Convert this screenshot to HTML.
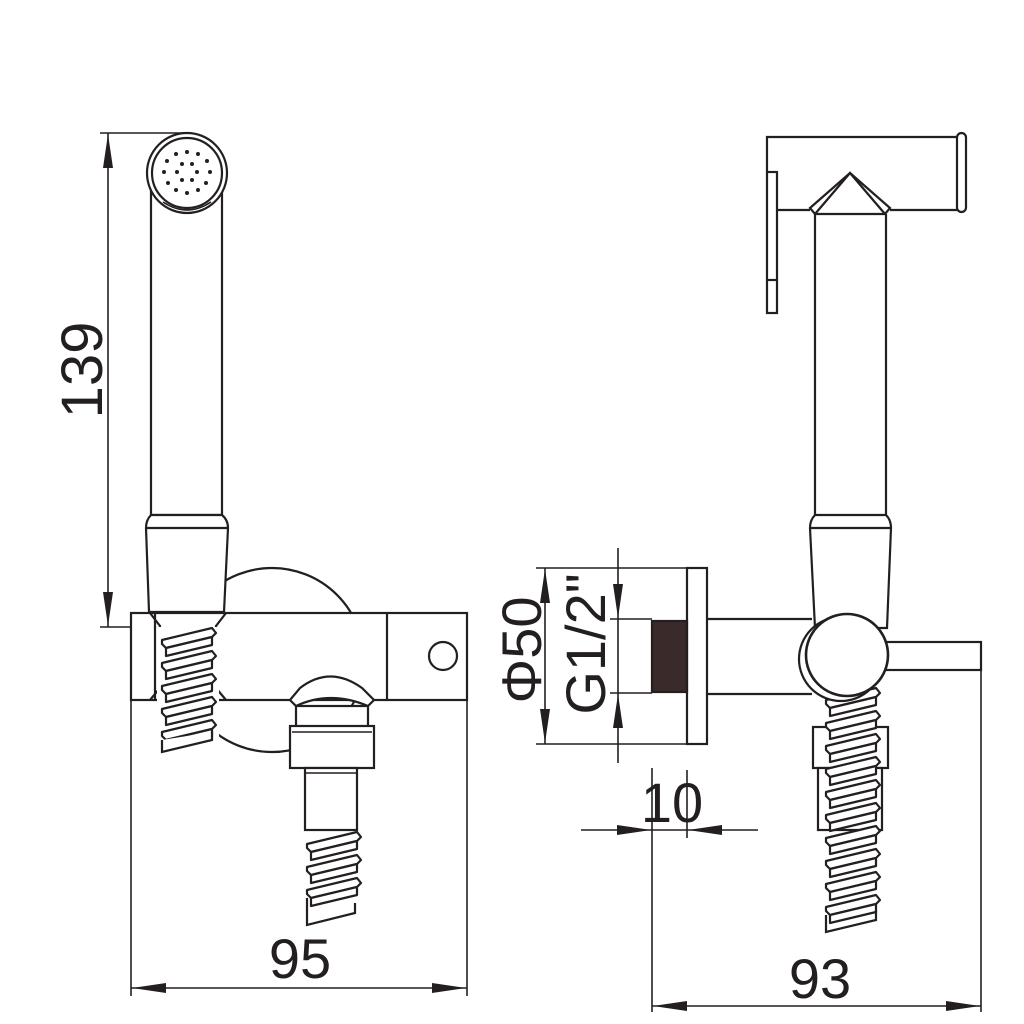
<!DOCTYPE html>
<html><head><meta charset="utf-8"><style>
html,body{margin:0;padding:0;background:#fff;}
svg{display:block;}
text{font-family:"Liberation Sans",sans-serif;fill:#231f20;}
</style></head><body>
<svg width="1024" height="1024" viewBox="0 0 1024 1024" xmlns="http://www.w3.org/2000/svg">
<defs>
<g id="coil" fill="#fff" stroke="#231f20" stroke-width="2.2" stroke-linejoin="round">
<path d="M0,12 L50,0 L54,5 L50,9 L4,20 L0,16 Z"/>
<path d="M4,20 L50,9 L50,17 L4,28 Z"/>
</g>
</defs>
<g fill="none" stroke="#231f20" stroke-width="2.2">

<!-- ===== LEFT VIEW ===== -->
<!-- 139 dimension -->
<line x1="108" y1="133" x2="108" y2="627" stroke-width="1.6"/>
<line x1="100" y1="133" x2="190" y2="133" stroke-width="1.6"/>
<line x1="100" y1="627" x2="162" y2="627" stroke-width="1.6"/>
<polygon points="108,134 103,168 113,168" fill="#231f20" stroke="none"/>
<polygon points="108,626 103,592 113,592" fill="#231f20" stroke="none"/>

<!-- background round plate -->
<circle cx="272" cy="660" r="92" fill="#fff"/>

<!-- handle tube -->
<rect x="151" y="188" width="71" height="327" fill="#fff"/>
<circle cx="187" cy="173" r="40" fill="#fff"/>
<circle cx="187" cy="173" r="35"/>
<path d="M163,202 Q187,218 211,202" stroke-width="1.6"/>
<!-- collar -->
<path d="M151,515 L222,515 Q228,520 228,528 L224,612 L149,612 L146,528 Q146,520 151,515 Z" fill="#fff"/>
<line x1="146" y1="528" x2="228" y2="528"/>

<!-- bracket -->
<rect x="131" y="613" width="336" height="87" fill="#fff"/>
<line x1="387" y1="613" x2="387" y2="700"/>
<circle cx="443" cy="656" r="14"/>
<path d="M155,613 L155,700" />
<path d="M150,613 L160,626 L160,688 L150,700"/>
<path d="M226,613 L216,626 L216,688 L226,700"/>

<!-- left hose -->
<rect x="157" y="627" width="62" height="125" fill="#fff" stroke="none"/>
<use href="#coil" x="162" y="628"/>
<use href="#coil" x="162" y="651"/>
<use href="#coil" x="162" y="674"/>
<use href="#coil" x="162" y="697"/>
<use href="#coil" x="162" y="720"/>
<path d="M162,740 L162,752 L212,740 L212,732" fill="#fff"/>

<!-- bottom elbow -->
<path d="M290,700 L300,688 Q330,665 362,688 L374,700 L368,706 Q330,690 296,706 Z" fill="#fff"/>
<rect x="296" y="706" width="72" height="21" fill="#fff"/>
<rect x="290" y="726" width="84" height="42" fill="#fff"/>
<line x1="292" y1="732" x2="372" y2="732" stroke-width="1.4"/>
<rect x="305" y="768" width="52" height="62" fill="#fff"/>
<line x1="305" y1="773" x2="357" y2="773" stroke-width="1.4"/>
<use href="#coil" x="307" y="832"/>
<use href="#coil" x="307" y="855"/>
<use href="#coil" x="307" y="878"/>
<path d="M307,898 L307,925 L355,913 L355,903"/>

<!-- 95 dimension -->
<line x1="131" y1="700" x2="131" y2="996" stroke-width="1.6"/>
<line x1="467" y1="700" x2="467" y2="996" stroke-width="1.6"/>
<line x1="131" y1="988" x2="467" y2="988" stroke-width="1.6"/>
<polygon points="132,988 166,983 166,993" fill="#231f20" stroke="none"/>
<polygon points="466,988 432,983 432,993" fill="#231f20" stroke="none"/>

<!-- ===== RIGHT VIEW ===== -->
<!-- T head -->
<path d="M767,172 L767,137 L962,137"/>
<line x1="777" y1="210" x2="810" y2="210"/>
<line x1="890" y1="210" x2="962" y2="210"/>
<rect x="957" y="133" width="9" height="79" rx="4.5" fill="#fff"/>
<rect x="767" y="172" width="10" height="141" fill="#fff"/>
<line x1="767" y1="280" x2="777" y2="280"/>
<path d="M810,208 L850,173 L890,208 L885,214 L815,214 Z" fill="#fff"/>
<path d="M815,214 L850,173 L885,214"/>
<!-- tube -->
<path d="M815,214 L815,515 M886,214 L886,515"/>
<path d="M815,515 L886,515 Q891,520 891,528 L887,628 L815,628 L810,528 Q810,520 815,515 Z" fill="#fff"/>
<line x1="810" y1="528" x2="891" y2="528"/>

<!-- wall lines -->
<line x1="707" y1="619" x2="812" y2="619"/>
<line x1="707" y1="694" x2="812" y2="694"/>
<!-- right pipe -->
<rect x="885" y="642" width="96" height="28" fill="#fff"/>

<!-- right hose -->
<rect x="818" y="690" width="64" height="45" fill="#fff" stroke="none"/>
<rect x="813" y="727" width="75" height="41" fill="#fff"/>
<rect x="818" y="768" width="64" height="62" fill="#fff"/>
<use href="#coil" x="826" y="688"/>
<use href="#coil" x="826" y="711"/>
<use href="#coil" x="826" y="734"/>
<use href="#coil" x="826" y="757"/>
<use href="#coil" x="826" y="780"/>
<use href="#coil" x="826" y="803"/>
<use href="#coil" x="826" y="826"/>
<use href="#coil" x="826" y="849"/>
<use href="#coil" x="826" y="872"/>
<use href="#coil" x="826" y="895"/>
<path d="M826,915 L826,932 L876,920 L876,910"/>

<!-- knob -->
<circle cx="841" cy="659" r="42" fill="#fff"/>
<circle cx="847" cy="655" r="41" fill="#fff" stroke-width="2.6"/>

<!-- flange -->
<line x1="536" y1="568" x2="707" y2="568" stroke-width="1.6"/>
<line x1="536" y1="744" x2="707" y2="744" stroke-width="1.6"/>
<rect x="687" y="568" width="20" height="176"/>
<rect x="652" y="621" width="35" height="71" fill="#3a2a2a" stroke="#231f20"/>
<line x1="610" y1="619" x2="652" y2="619" stroke-width="1.6"/>
<line x1="610" y1="693" x2="652" y2="693" stroke-width="1.6"/>

<!-- Φ50 dim -->
<line x1="545" y1="568" x2="545" y2="744" stroke-width="1.6"/>
<polygon points="545,569 540,603 550,603" fill="#231f20" stroke="none"/>
<polygon points="545,743 540,709 550,709" fill="#231f20" stroke="none"/>
<!-- G1/2 dim -->
<line x1="618" y1="548" x2="618" y2="763" stroke-width="1.6"/>
<polygon points="618,618 613,584 623,584" fill="#231f20" stroke="none"/>
<polygon points="618,694 613,728 623,728" fill="#231f20" stroke="none"/>

<!-- 10 dim -->
<line x1="652" y1="768" x2="652" y2="1012" stroke-width="1.6"/>
<line x1="687" y1="770" x2="687" y2="838" stroke-width="1.6"/>
<line x1="581" y1="830" x2="758" y2="830" stroke-width="1.6"/>
<polygon points="651,830 617,825 617,835" fill="#231f20" stroke="none"/>
<polygon points="688,830 722,825 722,835" fill="#231f20" stroke="none"/>

<!-- 93 dim -->
<line x1="981" y1="670" x2="981" y2="1012" stroke-width="1.6"/>
<line x1="652" y1="1006" x2="981" y2="1006" stroke-width="1.6"/>
<polygon points="653,1006 687,1001 687,1011" fill="#231f20" stroke="none"/>
<polygon points="980,1006 946,1001 946,1011" fill="#231f20" stroke="none"/>
</g>

<!-- shower dots -->
<g fill="#231f20">
<circle cx="187" cy="152" r="2"/><circle cx="176" cy="154" r="2"/><circle cx="198" cy="154" r="2"/>
<circle cx="167" cy="161" r="2"/><circle cx="182" cy="164" r="2"/><circle cx="192" cy="164" r="2"/><circle cx="207" cy="161" r="2"/>
<circle cx="164" cy="172" r="2"/><circle cx="177" cy="172" r="2"/><circle cx="197" cy="172" r="2"/><circle cx="210" cy="172" r="2"/>
<circle cx="168" cy="183" r="2"/><circle cx="182" cy="180" r="2"/><circle cx="192" cy="180" r="2"/><circle cx="206" cy="183" r="2"/>
<circle cx="176" cy="190" r="2"/><circle cx="187" cy="193" r="2"/><circle cx="198" cy="190" r="2"/>
</g>

<!-- texts -->
<text x="0" y="0" font-size="58" text-anchor="middle" transform="translate(102,370) rotate(-90)">139</text>
<text x="300" y="978" font-size="56" text-anchor="middle">95</text>
<text x="672" y="822" font-size="56" text-anchor="middle">10</text>
<text x="820" y="998" font-size="56" text-anchor="middle">93</text>
<text x="0" y="0" font-size="56" text-anchor="middle" transform="translate(541,650) rotate(-90)">Φ50</text>
<text x="0" y="0" font-size="56" text-anchor="middle" transform="translate(605,644) rotate(-90)">G1/2"</text>
</svg>
</body></html>
